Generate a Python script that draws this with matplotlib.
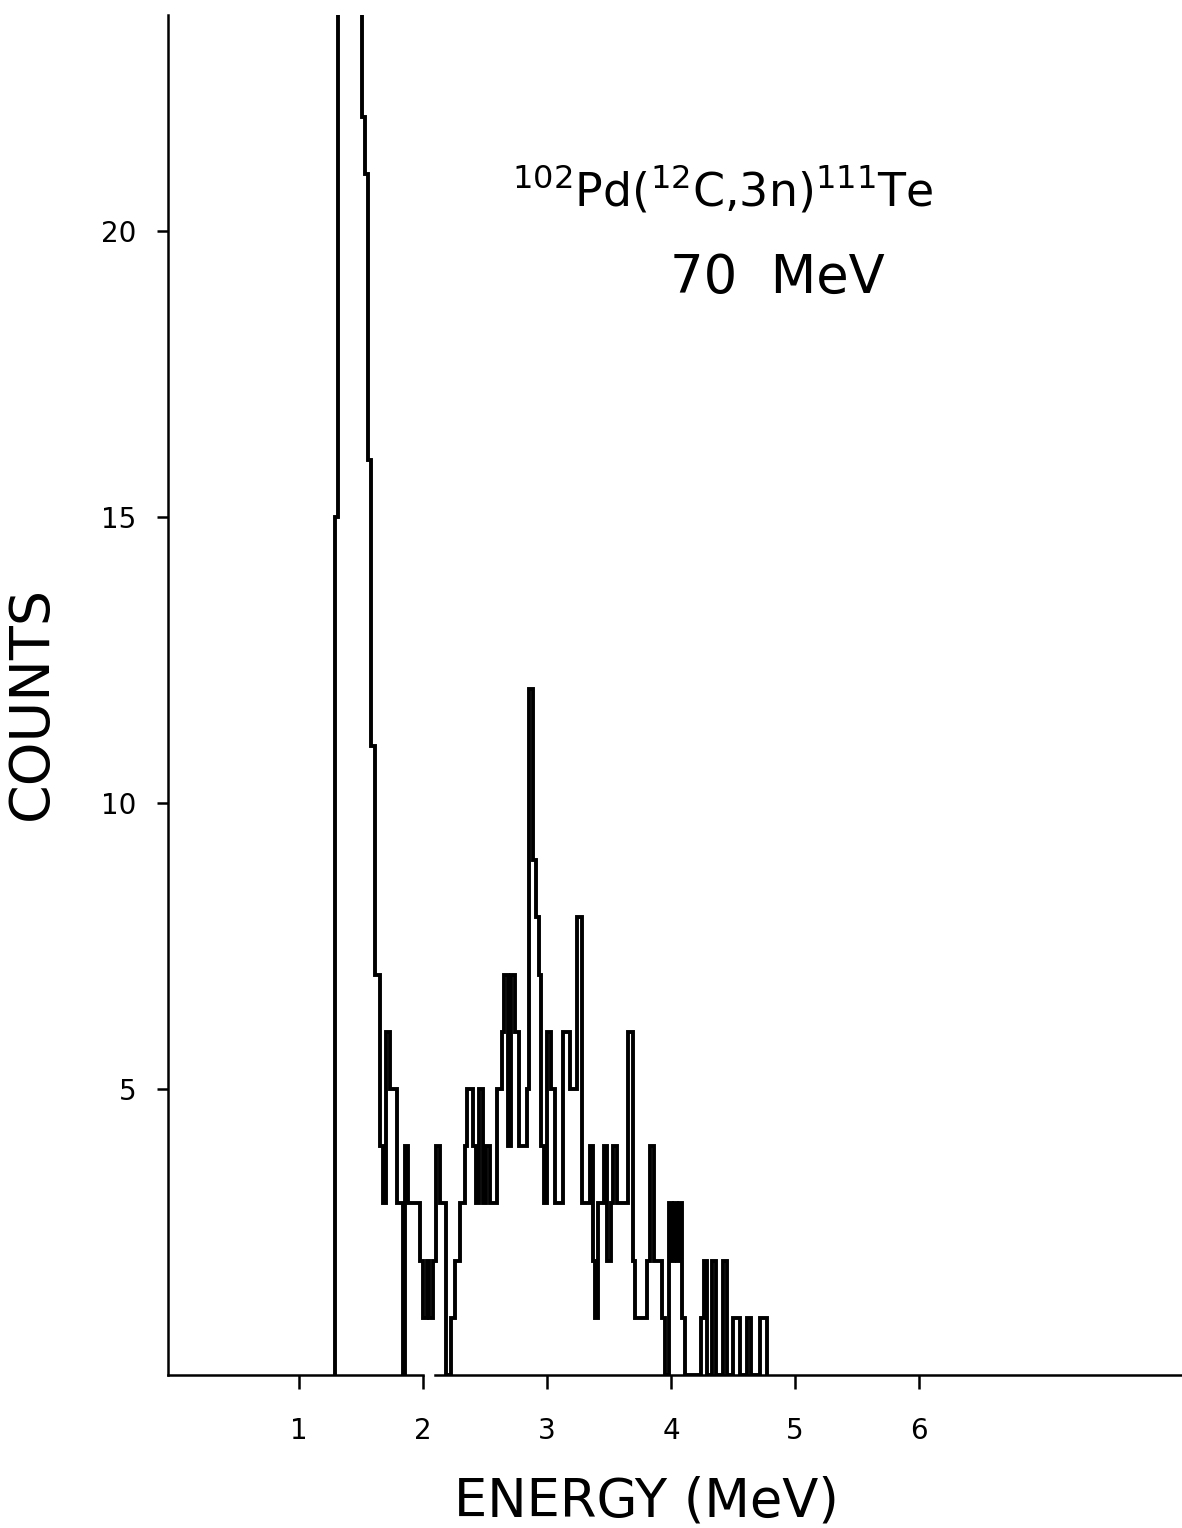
import matplotlib
matplotlib.use("Agg")
import matplotlib.pyplot as plt

# step edges (MeV) and counts per step
edges = [1.290, 1.315, 1.508, 1.532, 1.556, 1.581, 1.613, 1.653, 1.677, 1.702,
         1.734, 1.790, 1.839, 1.855, 1.879, 1.976, 2.000, 2.032, 2.048, 2.081,
         2.105, 2.137, 2.185, 2.226, 2.258, 2.298, 2.339, 2.355, 2.403, 2.427,
         2.452, 2.484, 2.508, 2.540, 2.597, 2.637, 2.653, 2.685, 2.710, 2.742,
         2.774, 2.839, 2.855, 2.887, 2.911, 2.935, 2.952, 2.976, 3.000, 3.032,
         3.065, 3.129, 3.185, 3.242, 3.282, 3.347, 3.371, 3.387, 3.411, 3.460,
         3.484, 3.516, 3.532, 3.565, 3.653, 3.694, 3.710, 3.806, 3.831, 3.863,
         3.927, 3.952, 3.984, 4.008, 4.024, 4.048, 4.065, 4.089, 4.113, 4.242,
         4.266, 4.290, 4.331, 4.363, 4.419, 4.452, 4.500, 4.556, 4.613, 4.645,
         4.718, 4.774]
counts = [15, 40, 22, 21, 16, 11, 7, 4, 3, 6,
          5, 3, 0, 4, 3, 2, 1, 2, 1, 2,
          4, 3, 0, 1, 2, 3, 4, 5, 4, 3,
          5, 3, 4, 3, 5, 6, 7, 4, 7, 6,
          4, 5, 12, 9, 8, 7, 4, 3, 6, 5,
          3, 6, 5, 8, 3, 4, 2, 1, 3, 4,
          2, 3, 4, 3, 6, 2, 1, 2, 4, 2,
          1, 0, 3, 2, 3, 2, 3, 1, 0, 1,
          2, 0, 2, 0, 2, 0, 1, 0, 1, 0,
          1]

x_ticks = [1, 2, 3, 4, 5, 6]
y_ticks = [5, 10, 15, 20]
x_min, x_max = -0.056, 8.12
y_max = 23.78

fig = plt.figure(figsize=(11.82, 15.28), dpi=100)
ax = fig.add_axes([0.1421, 0.1001, 0.8579, 0.8901])

ax.stairs(counts, edges, color="black", linewidth=2.8, baseline=0)

ax.set_xlim(x_min, x_max)
ax.set_ylim(0, y_max)

for side in ["top", "right", "bottom"]:
    ax.spines[side].set_visible(False)
ax.spines["left"].set_linewidth(1.8)

# baseline drawn by hand, it has a small break just after 2 MeV
ax.plot([x_min, 2.0], [0, 0], color="black", lw=1.8, clip_on=False)
ax.plot([2.097, x_max], [0, 0], color="black", lw=1.8, clip_on=False)

ax.set_xticks(x_ticks)
ax.set_yticks(y_ticks)
ax.tick_params(axis="x", direction="out", length=10, width=1.8, pad=20, labelsize=20)
ax.tick_params(axis="y", direction="out", length=8, width=1.8, pad=15, labelsize=20)

fig.text(0.433, 0.8658, r"$^{102}$Pd($^{12}$C,3n)$^{111}$Te", fontsize=33,
         ha="left", va="baseline")
fig.text(0.567, 0.8083, "70  MeV", fontsize=38, ha="left", va="baseline")

fig.text(0.027, 0.540, "COUNTS", fontsize=40, rotation=90, ha="center", va="center")
fig.text(0.547, 0.0075, "ENERGY (MeV)", fontsize=38, ha="center", va="baseline")

fig.savefig("out.png", dpi=100)
